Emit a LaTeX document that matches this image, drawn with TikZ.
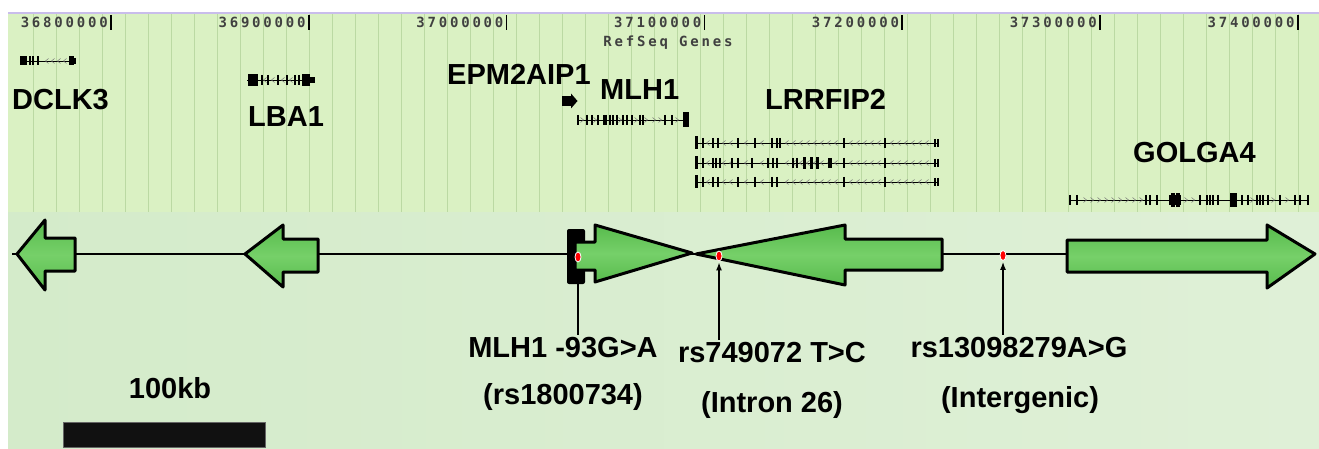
\documentclass[tikz,border=0pt]{standalone}
\usepackage{fontspec}
\setmainfont{Liberation Sans}
\newfontfamily\ucsc[LetterSpace=20]{DejaVu Sans Mono}
\usetikzlibrary{shapes.geometric,arrows.meta}
\definecolor{topbg}{HTML}{DAF1C3}
\definecolor{gridc}{HTML}{BBD9A3}
\definecolor{lav}{HTML}{C9BDEB}
\definecolor{botA}{HTML}{D4EBCA}
\definecolor{botB}{HTML}{DFF0D7}
\definecolor{gA}{HTML}{58BB4D}
\definecolor{gB}{HTML}{76D069}
\definecolor{barc}{HTML}{111111}
\tikzset{
  ticklab/.style={font=\ucsc\bfseries\fontsize{14}{14}\selectfont, inner sep=0pt, text=black!75},
  genelab/.style={font=\bfseries\fontsize{29}{29}\selectfont, inner sep=0pt, anchor=base west},
  snplab/.style={font=\bfseries\fontsize{29}{29}\selectfont, inner sep=2pt, anchor=base},
  trk/.style={line width=0.9pt, black},
  thinex/.style={line width=1.8pt, black},
  exon/.style={fill=black},
  chev/.style={line width=0.5pt, black!55},
  genearrow/.style={top color=gA, bottom color=gA, middle color=gB, draw=black, line width=3pt, line join=round},
  snpdot/.style={ellipse, fill=red, draw=white, line width=0.8pt, minimum width=6pt, minimum height=10pt, inner sep=0pt},
  ptr/.style={line width=1.3pt, black, -{Latex[length=8pt,width=6pt]}},
  ptrplain/.style={line width=1.3pt, black},
}
\begin{document}
\begin{tikzpicture}[x=1pt,y=-1pt]
\useasboundingbox (0,0) rectangle (1319,449);
\fill[white] (0,0) rectangle (1319,449);
% top panel
\fill[topbg] (8,13) rectangle (1319,212);
\foreach \i in {0,...,55} \draw[gridc, line width=1pt] ({33+23*\i},14) -- ({33+23*\i},212);
\draw[lav, line width=1.5pt] (8,13) -- (1319,13);
% bottom panel
\shade[left color=botA, right color=botB] (8,212) rectangle (1319,449);
% ticks
\foreach \v/\x in {36800000/111,36900000/308.8,37000000/506.6,37100000/704.4,37200000/902.2,37300000/1100,37400000/1297.8}{
  \draw[line width=1.6pt] (\x,15) -- (\x,30);
  \node[ticklab, anchor=base east] (t\v) at (\x-3,28) {\v};
}
\node[ticklab, anchor=base] (refseq) at (668,47) {RefSeq Genes};
% gene labels
\node[genelab] (lDCLK3) at (12,110) {DCLK3};
\node[genelab] (lLBA1) at (248,127) {LBA1};
\node[genelab] (lEPM) at (447,85) {EPM2AIP1};
\node[genelab] (lMLH1) at (600,100) {MLH1};
\node[genelab] (lLRR) at (765,110) {LRRFIP2};
\node[genelab] (lGOL) at (1133,163) {GOLGA4};
% DCLK3 track
\draw[trk] (20,61) -- (75,61);
\foreach \x in {47,53,59,65} \draw[chev] (\x+1.5,58.5) -- (\x-1.5,61) -- (\x+1.5,63.5);
\fill[exon] (20,56.5) rectangle (27,65.5);
\foreach \x in {30,33,38} \draw[thinex] (\x,56.5) -- (\x,65.5);
\fill[exon] (69,56.5) rectangle (74,65.5);
\draw[thinex] (75,58) -- (75,64);
% LBA1 track
\draw[trk] (247,80) -- (315,80);
\foreach \x in {265,273,283,291} \draw[chev] (\x+1.5,77.5) -- (\x-1.5,80) -- (\x+1.5,82.5);
\fill[exon] (248,74) rectangle (258,86);
\foreach \x in {262,268,278,287,295,299} \draw[thinex] (\x,75) -- (\x,85);
\fill[exon] (302,74) rectangle (310,86);
\fill[exon] (310,77) rectangle (315,83);
% EPM2AIP1 track
\fill[exon] (562,96) rectangle (572,106);
\fill[exon] (571,93.5) -- (577.5,101) -- (571,108.5) -- cycle;
% MLH1 track
\draw[trk] (577,120) -- (688,120);
\foreach \x in {582,595,620,636,646,654,660,677} \draw[chev] (\x-1.5,117.5) -- (\x+1.5,120) -- (\x-1.5,122.5);
\foreach \x in {578,587,592,598,604,606,610,613,617,623,627,632,640,643,665,672} \draw[thinex] (\x,115) -- (\x,125);
\fill[exon] (683,112) rectangle (689,127);
% LRRFIP2 tracks
\foreach \y in {143,163,182}{
  \draw[trk] (695,\y) -- (939,\y);
  \foreach \x in {708,724,731,746,762,787,794,801,808,815,822,829,836,851,858,865,872,879,892,899,906,913,920,927}
    \draw[chev] (\x+1.5,\y-2.5) -- (\x-1.5,\y) -- (\x+1.5,\y+2.5);
  \fill[exon] (694.5,\y-6.5) rectangle (698,\y+6.5);
  \foreach \x in {935,938} \draw[thinex] (\x,\y-4) -- (\x,\y+4);
}
\foreach \x in {703,713,718,738,755,772,777,780,844,885} \draw[thinex] (\x,138) -- (\x,148);
\foreach \x in {703,713,716,720,732,738,752,768,773,777,793,797,844,885} \draw[thinex] (\x,158) -- (\x,168);
\foreach \x in {804,811,817} \fill[exon] (\x-1.5,157) rectangle (\x+1.5,169);
\fill[exon] (828,158) rectangle (832,168);
\foreach \x in {703,713,718,738,755,772,777,844,885} \draw[thinex] (\x,177) -- (\x,187);
% GOLGA4 track
\draw[trk] (1070,200) -- (1308,200);
\foreach \x in {1085,1092,1099,1106,1113,1120,1127,1134,1141,1186,1193,1252,1273,1287}
  \draw[chev] (\x-1.5,197.5) -- (\x+1.5,200) -- (\x-1.5,202.5);
\foreach \x in {1070,1077,1146,1150,1157,1170,1175,1180,1200,1207,1210,1213,1218,1242,1248,1257,1260,1263,1268,1280,1295,1300,1308}
  \draw[thinex] (\x,195) -- (\x,205);
\foreach \x in {1173,1178} \fill[exon] (\x-1.8,193.5) rectangle (\x+1.8,206.5);
\fill[exon] (1230,193) rectangle (1237,207);
% backbone
\draw[line width=1.2pt] (12,254) -- (1315,254);
% gene arrows
\shadedraw[genearrow] (17,254) -- (45,220) -- (45,238) -- (75,238) -- (75,271) -- (45,271) -- (45,290) -- cycle;
\shadedraw[genearrow] (245,254) -- (283,225) -- (283,239) -- (318,239) -- (318,272) -- (283,272) -- (283,287) -- cycle;
\fill[black, rounded corners=2pt] (567,229) rectangle (585,284);
\shadedraw[genearrow] (575,242) -- (595,242) -- (595,225) -- (692,253) -- (595,282) -- (595,270) -- (575,270) -- cycle;
\shadedraw[genearrow] (696,254) -- (845,225) -- (845,239) -- (942,239) -- (942,270) -- (845,270) -- (845,285) -- cycle;
\shadedraw[genearrow] (1067,240) -- (1267,240) -- (1267,225) -- (1315,254) -- (1267,288) -- (1267,272) -- (1067,272) -- cycle;
% SNP dots
\node[snpdot] (d1) at (578,257) {};
\node[snpdot] (d2) at (719,256) {};
\node[snpdot] (d3) at (1003,255.5) {};
% SNP labels
\node[snplab] (s1) at (563,357) {MLH1 -93G>A};
\node[snplab] (s1b) at (563,404) {(rs1800734)};
\node[snplab] (s2) at (772,362) {rs749072 T>C};
\node[snplab] (s2b) at (772,412) {(Intron 26)};
\node[snplab] (s3) at (1019,357) {rs13098279A>G};
\node[snplab] (s3b) at (1020,407) {(Intergenic)};
% pointers
\draw[ptrplain] (s1.north -| d1) -- ([yshift=-12pt]d1.south);
\draw[ptr] (s2.north -| d2) -- ([yshift=-1pt]d2.south);
\draw[ptr] (s3.north -| d3) -- ([yshift=-1pt]d3.south);
% scale bar
\node[snplab] (kb) at (170,398) {100kb};
\draw[fill=barc, draw=black!60, line width=1pt] (63,422) rectangle (265,447);
\end{tikzpicture}
\end{document}
